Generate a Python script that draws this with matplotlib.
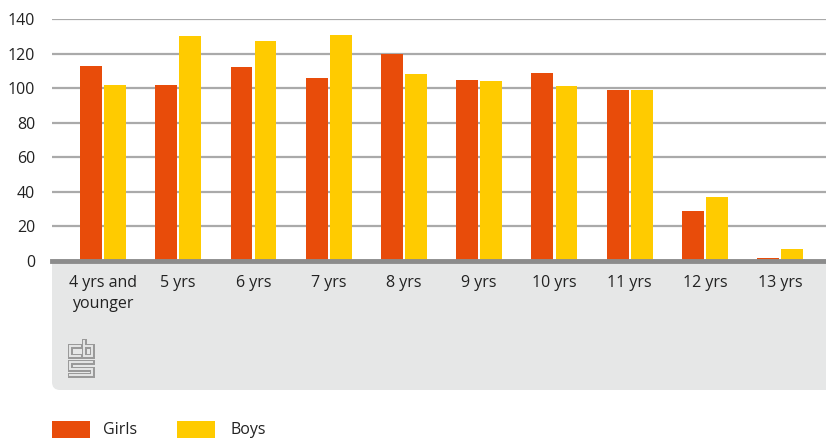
import matplotlib.pyplot as plt
from matplotlib.patches import FancyBboxPatch, Rectangle
import numpy as np

plt.rcParams['font.family'] = ['Open Sans', 'DejaVu Sans']

categories = ['4 yrs and\nyounger', '5 yrs', '6 yrs', '7 yrs', '8 yrs',
              '9 yrs', '10 yrs', '11 yrs', '12 yrs', '13 yrs']
girls = [113, 102, 112, 106, 120, 105, 109, 99, 29, 2]
boys = [102, 130, 127, 131, 108, 104, 101, 99, 37, 7]
yticks = [0, 20, 40, 60, 80, 100, 120, 140]

orange = '#e84c0a'
yellow = '#ffcb00'
panel = '#e6e7e7'
txt = '#222222'

W, H = 826, 438
fig = plt.figure(figsize=(W / 100, H / 100), dpi=100)

# background axes in pixel units for the grey panel, logo and legend
bg = fig.add_axes([0, 0, 1, 1], zorder=0)
bg.set_xlim(0, W)
bg.set_ylim(H, 0)
bg.axis('off')
bg.add_patch(FancyBboxPatch((52, 262), 800, 128, boxstyle='round,pad=0,rounding_size=8',
                            facecolor=panel, edgecolor='none'))
bg.add_patch(Rectangle((52, 262), 40, 40, facecolor=panel, edgecolor='none'))

# cbs logo, hollow strokes
logo = [
    [(80, 346), (70, 346), (70, 356), (80, 356)],
    [(84, 341), (84, 356), (92, 356), (92, 346), (84, 346)],
    [(92, 362), (70, 362), (70, 368.5), (92, 368.5), (92, 375), (70, 375)],
]
for seg in logo:
    xs, ys = zip(*seg)
    bg.plot(xs, ys, color='#9a9a9a', linewidth=3.6, solid_joinstyle='miter',
            solid_capstyle='projecting')
    bg.plot(xs, ys, color=panel, linewidth=1.4, solid_joinstyle='miter',
            solid_capstyle='projecting')

# legend
bg.add_patch(Rectangle((52, 421), 38, 17, facecolor=orange, edgecolor='none'))
bg.text(103, 430, 'Girls', fontsize=11.5, color=txt, va='center')
bg.add_patch(Rectangle((177, 421), 38, 17, facecolor=yellow, edgecolor='none'))
bg.text(230, 430, 'Boys', fontsize=11.5, color=txt, va='center')

# main axes: x 52..826, y 19..261 (pixels from top)
ax = fig.add_axes([52 / W, 1 - 261 / H, 774 / W, 242 / H], zorder=1)
ax.patch.set_alpha(0)

x = np.arange(len(categories))
bw = 0.29
ax.bar(x - 0.16, girls, width=bw, color=orange, zorder=3)
ax.bar(x + 0.16, boys, width=bw, color=yellow, zorder=3)

ax.set_xlim(-0.678, 9.61)
ax.set_ylim(0, 140)
ax.set_yticks(yticks)
ax.set_yticklabels([str(v) for v in yticks], color=txt, fontsize=11.5)
ax.tick_params(axis='y', length=0, pad=12)
ax.set_xticks(x)
ax.set_xticklabels(categories, color=txt, fontsize=11.5, va='top')
for lab in ax.get_xticklabels():
    lab.set_linespacing(1.45)
ax.tick_params(axis='x', length=0, pad=10)

ax.grid(axis='y', color='#aaaaaa', linewidth=1.6, zorder=0)
for s in ['top', 'right', 'left']:
    ax.spines[s].set_visible(False)
ax.spines['bottom'].set_color('#8c8c8c')
ax.spines['bottom'].set_linewidth(3.5)
ax.spines['bottom'].set_zorder(4)

fig.savefig('out.png', dpi=100)
